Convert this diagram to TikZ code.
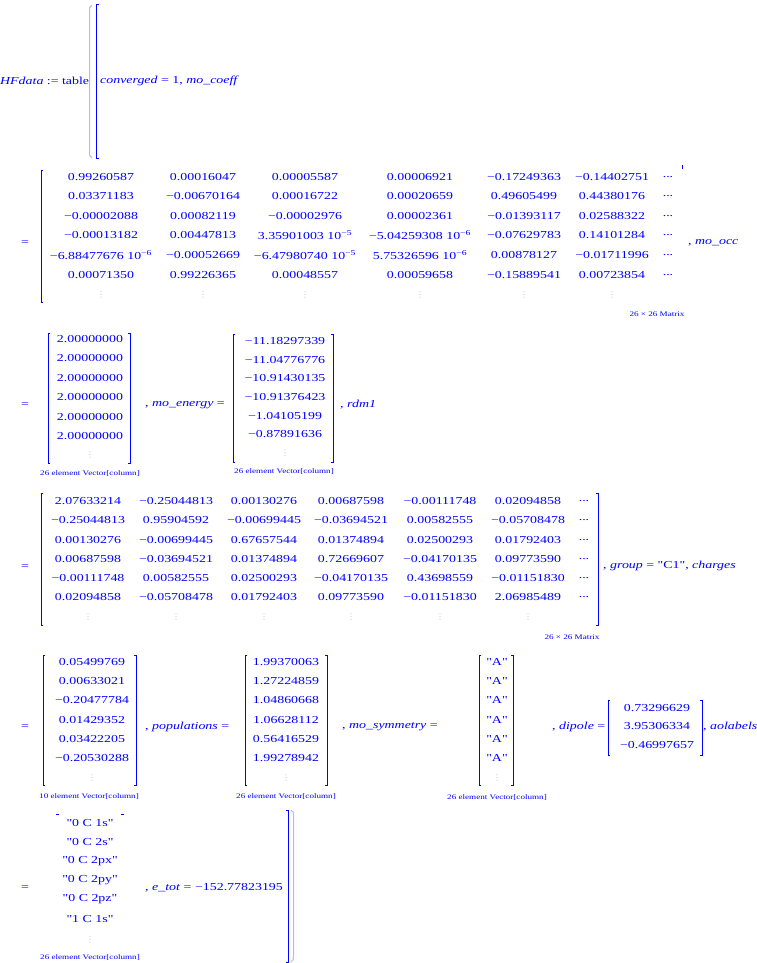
\documentclass[tikz,border=0pt]{standalone}
\usepackage{fontspec}
\setmainfont{Liberation Serif}[FakeStretch=1.3, Ligatures=TeXOff]
\newfontfamily\dotfont{DejaVu Sans}
\definecolor{mapleblue}{RGB}{0,0,255}
\definecolor{faded}{RGB}{185,185,230}
\tikzstyle{every node}=[inner sep=0pt, text=mapleblue, font=\fontsize{10.7}{12}\selectfont]
\tikzstyle{captext}=[font=\fontsize{7}{8}\selectfont]
\tikzstyle{lbl}=[anchor=west]
\tikzstyle{vdot}=[text=faded, font=\dotfont\fontsize{8}{8}\selectfont]
\tikzstyle{brk}=[draw=mapleblue, line width=1pt]
\tikzstyle{paren}=[draw=faded, line width=1pt]
\newcommand{\ten}[1]{ 10\textsuperscript{#1}}

\begin{document}
\begin{tikzpicture}[x=1pt, y=-1pt]
    \useasboundingbox (0,0) rectangle (756,963);

    % table( [ ...
    \node	[lbl]	(hf)	at (0,81)	{\textit{HFdata} := table};
    \draw[paren] (92,5) .. controls (89.5,7) .. (89.5,12) -- (89.5,151) .. controls (89.5,156) .. (92,158);
    \draw[brk] (98.5,5) -- (96.5,5) -- (96.5,158) -- (98.5,158);
    \node	[lbl]	(conv)	at (100,81)	{\textit{converged} = 1, \textit{mo\_coeff}};

    % mo_coeff
    \node	(eq1)	at (25,243)	{=};
    \draw[brk] (43,170) -- (41,170) -- (41,302) -- (43,302);
    \foreach \cx/\vals [count=\c] in {
        101/{0.99260587, 0.03371183, −0.00002088, −0.00013182, −6.88477676\ten{−6}, 0.00071350},
        203/{0.00016047, −0.00670164, 0.00082119, 0.00447813, −0.00052669, 0.99226365},
        305/{0.00005587, 0.00016722, −0.00002976, 3.35901003\ten{−5}, −6.47980740\ten{−5}, 0.00048557},
        420/{0.00006921, 0.00020659, 0.00002361, −5.04259308\ten{−6}, 5.75326596\ten{−6}, 0.00059658},
        524/{−0.17249363, 0.49605499, −0.01393117, −0.07629783, 0.00878127, −0.15889541},
        612/{−0.14402751, 0.44380176, 0.02588322, 0.14101284, −0.01711996, 0.00723854}} {
        \foreach \v [count=\r] in \vals
            \node	(co-\c-\r)	at (\cx,157.1+19.6*\r)	{\v};
        \node	[vdot]	(co-\c-d)	at (\cx,295)	{⋮};
    }
    \foreach \r in {1,...,6}
        \node	(co-h-\r)	at (668,157.1+19.6*\r)	{...};
    \draw[brk] (682,165) -- (682,169);
    \node	[lbl]	(occlbl)	at (688,243)	{, \textit{mo\_occ}};
    \node	[captext]	(cocap)	at (657,314)	{26 × 26 Matrix};

    % mo_occ, mo_energy
    \node	(eq2)	at (25,405)	{=};
    \draw[brk] (50,333) -- (48,333) -- (48,463) -- (50,463);
    \draw[brk] (128,333) -- (130,333) -- (130,463) -- (128,463);
    \foreach \r in {1,...,6}
        \node	(oc-\r)	at (90,319.5+19.5*\r)	{2.00000000};
    \node	[vdot]	(oc-d)	at (90,455)	{⋮};
    \node	[captext]	(occap)	at (90,474)	{26 element Vector[column]};
    \node	[lbl]	(enlbl)	at (145,405)	{, \textit{mo\_energy} =};
    \draw[brk] (235,334) -- (233,334) -- (233,462) -- (235,462);
    \draw[brk] (331,334) -- (333,334) -- (333,462) -- (331,462);
    \foreach \v [count=\r] in {−11.18297339, −11.04776776, −10.91430135, −10.91376423, −1.04105199, −0.87891636}
        \node	(en-\r)	at (285,322.3+18.7*\r)	{\v};
    \node	[vdot]	(en-d)	at (285,453)	{⋮};
    \node	[captext]	(encap)	at (284,472)	{26 element Vector[column]};
    \node	[lbl]	(rdlbl)	at (340,405)	{, \textit{rdm1}};

    % rdm1
    \node	(eq3)	at (25,567)	{=};
    \draw[brk] (43,493) -- (41,493) -- (41,625) -- (43,625);
    \draw[brk] (596,493) -- (598,493) -- (598,625) -- (596,625);
    \foreach \cx/\vals [count=\c] in {
        88/{2.07633214, −0.25044813, 0.00130276, 0.00687598, −0.00111748, 0.02094858},
        176/{−0.25044813, 0.95904592, −0.00699445, −0.03694521, 0.00582555, −0.05708478},
        264/{0.00130276, −0.00699445, 0.67657544, 0.01374894, 0.02500293, 0.01792403},
        351/{0.00687598, −0.03694521, 0.01374894, 0.72669607, −0.04170135, 0.09773590},
        440/{−0.00111748, 0.00582555, 0.02500293, −0.04170135, 0.43698559, −0.01151830},
        528/{0.02094858, −0.05708478, 0.01792403, 0.09773590, −0.01151830, 2.06985489}} {
        \foreach \v [count=\r] in \vals
            \node	(rd-\c-\r)	at (\cx,481.7+19.3*\r)	{\v};
        \node	[vdot]	(rd-\c-d)	at (\cx,617)	{⋮};
    }
    \foreach \r in {1,...,6}
        \node	(rd-h-\r)	at (584,481.7+19.3*\r)	{...};
    \node	[lbl]	(grlbl)	at (603,566)	{, \textit{group} = "C1", \textit{charges}};
    \node	[captext]	(rdcap)	at (572,637)	{26 × 26 Matrix};

    % charges, populations, mo_symmetry, dipole
    \node	(eq4)	at (25,727)	{=};
    \draw[brk] (45,655) -- (43,655) -- (43,785) -- (45,785);
    \draw[brk] (134,655) -- (136,655) -- (136,785) -- (134,785);
    \foreach \v [count=\r] in {0.05499769, 0.00633021, −0.20477784, 0.01429352, 0.03422205, −0.20530288}
        \node	(ch-\r)	at (92,642.8+19.2*\r)	{\v};
    \node	[vdot]	(ch-d)	at (92,778)	{⋮};
    \node	[captext]	(chcap)	at (89,797)	{10 element Vector[column]};
    \node	[lbl]	(polbl)	at (145,727)	{, \textit{populations} =};
    \draw[brk] (247,655) -- (245,655) -- (245,785) -- (247,785);
    \draw[brk] (325,655) -- (327,655) -- (327,785) -- (325,785);
    \foreach \v [count=\r] in {1.99370063, 1.27224859, 1.04860668, 1.06628112, 0.56416529, 1.99278942}
        \node	(po-\r)	at (286,642.8+19.2*\r)	{\v};
    \node	[vdot]	(po-d)	at (286,778)	{⋮};
    \node	[captext]	(pocap)	at (286,797)	{26 element Vector[column]};
    \node	[lbl]	(sylbl)	at (342,727)	{, \textit{mo\_symmetry} =};
    \draw[brk] (481,655) -- (479,655) -- (479,785) -- (481,785);
    \draw[brk] (511,655) -- (513,655) -- (513,785) -- (511,785);
    \foreach \r in {1,...,6}
        \node	(sy-\r)	at (497,642.8+19.2*\r)	{"A"};
    \node	[vdot]	(sy-d)	at (497,778)	{⋮};
    \node	[captext]	(sycap)	at (497,798)	{26 element Vector[column]};
    \node	[lbl]	(dilbl)	at (552,727)	{, \textit{dipole} =};
    \draw[brk] (610,700) -- (608,700) -- (608,755) -- (610,755);
    \draw[brk] (700,700) -- (702,700) -- (702,755) -- (700,755);
    \foreach \v [count=\r] in {0.73296629, 3.95306334, −0.46997657}
        \node	(di-\r)	at (657,689.5+18.5*\r)	{\v};
    \node	[lbl]	(aolbl)	at (703,727)	{, \textit{aolabels}};

    % aolabels, e_tot ] )
    \node	(eq5)	at (25,888)	{=};
    \draw[brk] (56,814) -- (59,814);
    \draw[brk] (121,814) -- (124,814);
    \foreach \v [count=\r] in {"0 C 1s", "0 C 2s", "0 C 2px", "0 C 2py", "0 C 2pz", "1 C 1s"}
        \node	(ao-\r)	at (90,803.9+19.1*\r)	{\v};
    \node	[vdot]	(ao-d)	at (90,940)	{⋮};
    \node	[captext]	(aocap)	at (90,958)	{26 element Vector[column]};
    \node	[lbl]	(etlbl)	at (145,888)	{, \textit{e\_tot} = −152.77823195};
    \draw[brk] (286,810) -- (288,810) -- (288,962) -- (286,962);
    \draw[paren] (291,810) .. controls (293.5,812) .. (293.5,817) -- (293.5,955) .. controls (293.5,960) .. (291,962);
\end{tikzpicture}
\end{document}
